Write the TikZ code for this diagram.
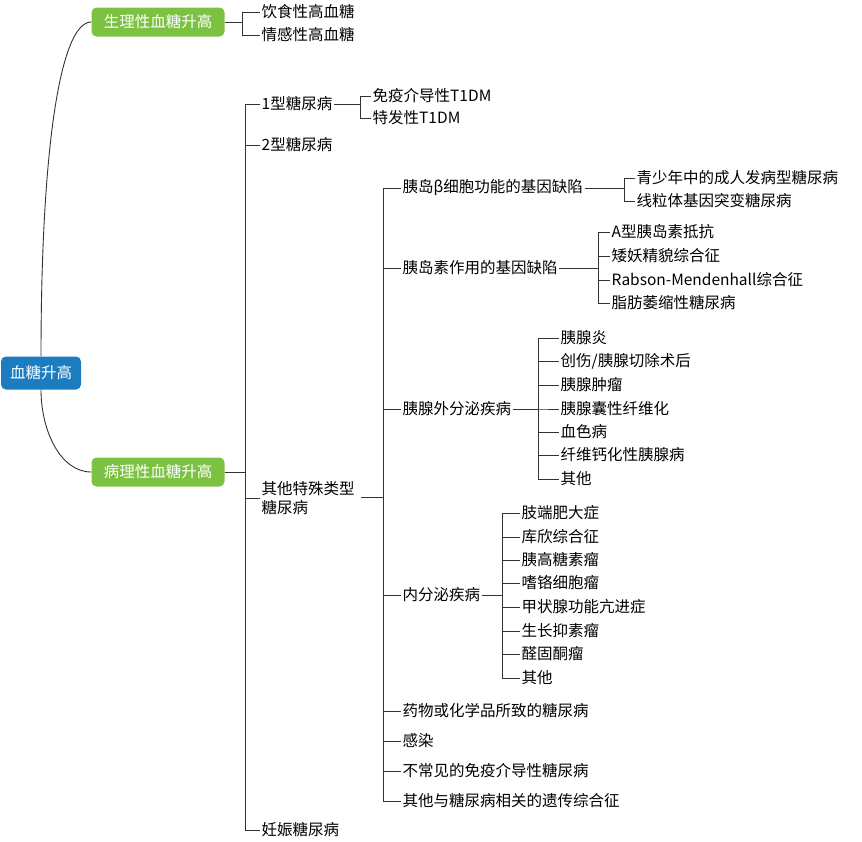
\documentclass[tikz,border=0pt]{standalone}
\usepackage{fontspec}
\setmainfont{Noto Sans CJK SC}
\usetikzlibrary{positioning}
\definecolor{rootblue}{HTML}{1C7CC0}
\definecolor{leafgreen}{HTML}{7CC242}
\tikzset{
  rootbox/.style={fill=rootblue,text=white,rounded corners=5pt,minimum width=80pt,minimum height=33pt,font=\fontsize{15.5}{18}\selectfont},
  groupbox/.style={fill=leafgreen,text=white,rounded corners=5pt,inner sep=4pt,minimum width=133pt,minimum height=29pt,font=\fontsize{15.5}{18}\selectfont},
  item/.style={anchor=west,inner sep=1.5pt,font=\fontsize{15.5}{19}\selectfont,align=left},
  link/.style={draw=black!80,line width=0.9pt}
}
\newcommand{\branch}[3]{% parent, line x, children
  \foreach \c in {#3} {\draw[link] (#1.east) -- (#2,0 |- #1.east) |- (\c.west);}}
\begin{document}
\begin{tikzpicture}[x=1pt,y=-1pt]
\useasboundingbox (0,0) rectangle (862,841);
\node[rootbox] (root) at (41,373) {血糖升高};
\node[groupbox] (phys) at (158,22) {生理性血糖升高};
\node[groupbox] (path) at (158,472) {病理性血糖升高};
\draw[link] (root.north) .. controls (41,150) and (60,22) .. (phys.west);
\draw[link] (root.south) .. controls (41,430) and (60,472) .. (path.west);

% physiological
\node[item] (diet) at (260,12) {饮食性高血糖};
\node[item] (emo)  at (260,35) {情感性高血糖};
\branch{phys}{242}{diet,emo}

% pathological
\node[item] (t1)    at (260,104) {1型糖尿病};
\node[item] (t2)    at (260,145) {2型糖尿病};
\node[item] (other) at (260,498) {其他特殊类型\\糖尿病};
\node[item] (gest)  at (260,830) {妊娠糖尿病};
\branch{path}{245}{t1,t2,other,gest}

\node[item] (immu) at (371,96)  {免疫介导性T1DM};
\node[item] (idio) at (371,118) {特发性T1DM};
\branch{t1}{360}{immu,idio}

% other specific types
\node[item] (beta)  at (401,188) {胰岛β细胞功能的基因缺陷};
\node[item] (ins)   at (401,268) {胰岛素作用的基因缺陷};
\node[item] (exo)   at (401,409) {胰腺外分泌疾病};
\node[item] (endo)  at (401,595) {内分泌疾病};
\node[item] (drug)  at (401,711) {药物或化学品所致的糖尿病};
\node[item] (inf)   at (401,741) {感染};
\node[item] (rare)  at (401,771) {不常见的免疫介导性糖尿病};
\node[item] (gene)  at (401,801) {其他与糖尿病相关的遗传综合征};
\draw[link] (361,497) -- (383,497);
\foreach \c in {beta,ins,exo,endo,drug,inf,rare,gene}
  \draw[link] (383,497) |- (\c.west);

\node[item] (mody) at (635,178) {青少年中的成人发病型糖尿病};
\node[item] (mito) at (635,201) {线粒体基因突变糖尿病};
\branch{beta}{624}{mody,mito}

\node[item] (insa) at (610,232) {A型胰岛素抵抗};
\node[item] (lepr) at (610,256) {矮妖精貌综合征};
\node[item] (rabs) at (610,280) {Rabson-Mendenhall综合征};
\node[item] (lipo) at (610,303) {脂肪萎缩性糖尿病};
\branch{ins}{598}{insa,lepr,rabs,lipo}

\node[item] (e1) at (559,338) {胰腺炎};
\node[item] (e2) at (559,361) {创伤/胰腺切除术后};
\node[item] (e3) at (559,385) {胰腺肿瘤};
\node[item] (e4) at (559,409) {胰腺囊性纤维化};
\node[item] (e5) at (559,432) {血色病};
\node[item] (e6) at (559,455) {纤维钙化性胰腺病};
\node[item] (e7) at (559,479) {其他};
\branch{exo}{538}{e1,e2,e3,e4,e5,e6,e7}

\node[item] (n1) at (520,513) {肢端肥大症};
\node[item] (n2) at (520,537) {库欣综合征};
\node[item] (n3) at (520,560) {胰高糖素瘤};
\node[item] (n4) at (520,583) {嗜铬细胞瘤};
\node[item] (n5) at (520,607) {甲状腺功能亢进症};
\node[item] (n6) at (520,631) {生长抑素瘤};
\node[item] (n7) at (520,654) {醛固酮瘤};
\node[item] (n8) at (520,678) {其他};
\branch{endo}{502}{n1,n2,n3,n4,n5,n6,n7,n8}
\end{tikzpicture}
\end{document}
